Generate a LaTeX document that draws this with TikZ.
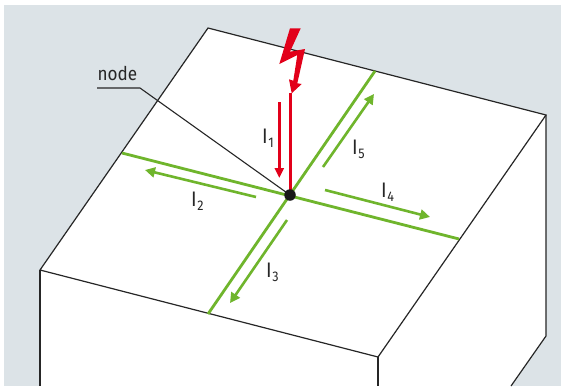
\documentclass[tikz,border=0pt]{standalone}
\usepackage{fontspec}
\setmainfont[FakeStretch=0.9]{Fira Sans}
\definecolor{bgc}{HTML}{DCE3E7}
\definecolor{grn}{HTML}{6FB52C}
\definecolor{rd}{HTML}{E2001A}
\definecolor{ink}{HTML}{262626}
\usetikzlibrary{arrows.meta}
\tikzset{
  cube/.style={draw=ink,line width=1.2pt,line join=miter},
  leader/.style={draw=ink,line width=1.1pt},
  wire/.style={draw=grn,line width=2.8pt},
  flow/.style={draw=grn,line width=2.6pt,-{Triangle[length=10pt,width=10pt]}},
  lbl/.style={text=ink,font=\fontsize{21}{23}\selectfont,inner sep=0pt,anchor=base west}
}
\newcommand{\Isub}[1]{I\kern0.5pt\raisebox{-4.5pt}{\fontsize{14}{15}\selectfont #1}}
\begin{document}
\begin{tikzpicture}[x=1pt,y=-1pt]
\useasboundingbox (0,0) rectangle (561,386);
\fill[bgc] (4,5) rectangle (561,386);
\fill[white] (208,28) -- (546,115) -- (546,336) -- (511,386) -- (40,386) -- (40,270) -- cycle;
\coordinate (tl) at (208,28);
\coordinate (tr) at (546,115);
\coordinate (tf) at (378,357);
\coordinate (ll) at (40,270);
\draw[cube] (tl) -- (tr) -- (tf) -- (ll) -- cycle;
\draw[cube] (ll) -- (40,386);
\draw[cube] (tf) -- (378,386);
\draw[cube] (tr) -- (546,336) -- (511,386);
% wires
\coordinate (w1) at (122,153);
\coordinate (w2) at (459,239);
\coordinate (w3) at (375,71);
\coordinate (w4) at (208,314);
\draw[wire] (w1) -- (w2);
\draw[wire] (w3) -- (w4);
% leader
\node[lbl,font=\fontsize{19}{21}\selectfont] (nodelabel) at (97.5,80) {node};
\coordinate (la) at (97,88);
\coordinate (lb) at (140,88);
\coordinate (hub) at (290,195);
\draw[leader] (la) -- (lb) -- (hub);
% flows
\coordinate (a5) at (323,167); \coordinate (b5) at (374,94);
\coordinate (a4) at (325,190); \coordinate (b4) at (430,217);
\coordinate (a3) at (287,220); \coordinate (b3) at (230,303);
\coordinate (a2) at (256,197); \coordinate (b2) at (145,170);
\draw[flow] (a5) -- (b5);
\draw[flow] (a4) -- (b4);
\draw[flow] (a3) -- (b3);
\draw[flow] (a2) -- (b2);
% red
\coordinate (a1) at (279.3,102); \coordinate (b1) at (279.3,178);
\draw[draw=rd,line width=3pt,-{Triangle[length=10pt,width=9pt]}] (a1) -- (b1);
\coordinate (rt) at (290,93);
\draw[draw=rd,line width=3pt] (rt) -- (hub);
\fill[rd] (290,28.3) -- (300.7,28.3) -- (290,51.7) -- (305,49) -- (297.3,83.3) -- (301.7,84) -- (291.7,93.3) -- (289,79.3) -- (293.3,80.7) -- (297.3,55) -- (279.3,64) -- cycle;
\node[circle,fill=black!90,minimum size=11.5pt,inner sep=0pt] (dot) at (hub) {};
% labels
\node[lbl] (i1) at (262,143) {\Isub{1}};
\node[lbl] (i5) at (352,154) {\Isub{5}};
\node[lbl] (i4) at (381,197) {\Isub{4}};
\node[lbl] (i2) at (191,206) {\Isub{2}};
\node[lbl] (i3) at (266,277) {\Isub{3}};
\end{tikzpicture}
\end{document}
